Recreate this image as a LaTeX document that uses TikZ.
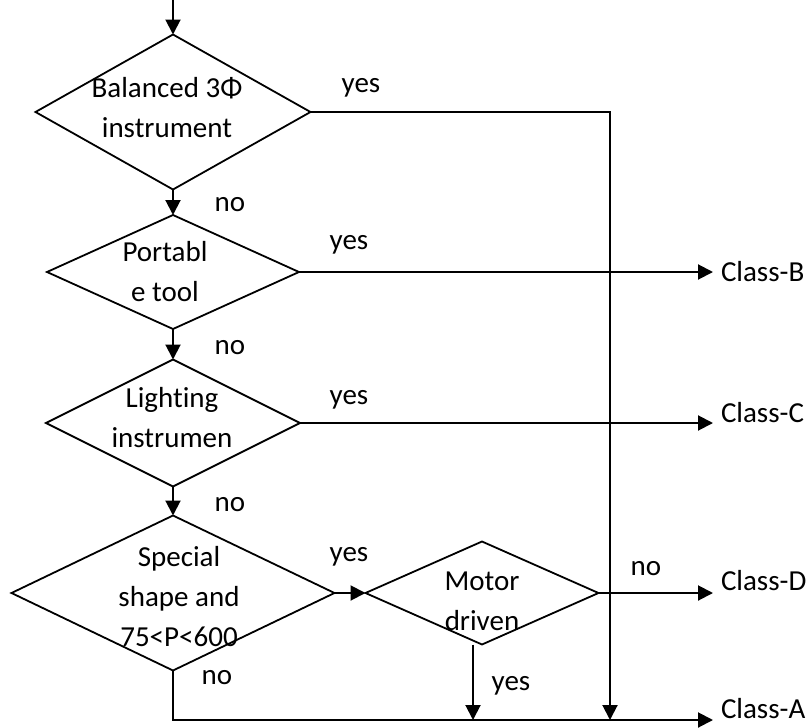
\documentclass[tikz,border=0pt]{standalone}
\usepackage{fontspec}
\setmainfont{Carlito}[Ligatures=NoCommon]
\usetikzlibrary{arrows.meta, shapes.geometric}

\begin{document}
\begin{tikzpicture}[x=0.5pt, y=-0.5pt,
    every node/.style={font=\fontsize{14.5}{20}\selectfont, inner sep=0pt, outer sep=0pt},
    decision/.style={diamond, draw, line width=0.9pt},
    txt/.style={align=center},
    arr/.style={line width=1pt, -{Triangle[length=7.5pt, width=7.5pt]}},
    ln/.style={line width=1pt}]
    \useasboundingbox (0,0) rectangle (809,728);

    % decisions
    \node[decision, minimum width=137.5pt, minimum height=77.5pt] (bal) at (173,112) {};
    \node[decision, minimum width=126pt, minimum height=57pt] (port) at (173,272) {};
    \node[decision, minimum width=127pt, minimum height=63.5pt] (light) at (173,423) {};
    \node[decision, minimum width=161.5pt, minimum height=77.5pt] (spec) at (173,593) {};
    \node[decision, minimum width=116.5pt, minimum height=51.5pt] (motor) at (482,593) {};

    % texts in the decisions
    \node[txt] (bal-t) at (167,108) {Balanced 3Φ\\instrument};
    \node[txt] (port-t) at (165,272) {Portabl\\e tool};
    \node[txt] (light-t) at (172,418) {Lighting\\instrumen};
    \node[txt] (spec-t) at (179,597) {Special\\shape and\\75<P<600};
    \node[txt] (motor-t) at (482,601) {Motor\\driven};

    % classes
    \node[anchor=west] (clB) at (721,272) {Class-B};
    \node[anchor=west] (clC) at (721,413) {Class-C};
    \node[anchor=west] (clD) at (721,581) {Class-D};
    \node[anchor=west] (clA) at (721,709) {Class-A};

    \coordinate (start) at (173,0);
    \coordinate (endB) at (713,272);
    \coordinate (endC) at (713,423);
    \coordinate (endD) at (713,593);
    \coordinate (endA) at (713,720);
    \coordinate (jA) at (610,720);
    \coordinate (myes) at (473,720);

    % edges
    \draw[arr] (start) -- (bal.north);
    \draw[arr] (bal.south) -- (port.north);
    \draw[arr] (port.south) -- (light.north);
    \draw[arr] (light.south) -- (spec.north);
    \draw[arr] (bal.east) -| (jA);
    \draw[arr] (port.east) -- (endB);
    \draw[arr] (light.east) -- (endC);
    \draw[arr] (spec.east) -- (motor.west);
    \draw[arr] (motor.east) -- (endD);
    \draw[arr] (motor.south -| myes) -- (myes);
    \draw[arr] (spec.south) |- (endA);

    % edge labels
    \node (yes1) at (361,88) {yes};
    \node (no1) at (230,205) {no};
    \node (yes2) at (349,245) {yes};
    \node (no2) at (230,348) {no};
    \node (yes3) at (349,400) {yes};
    \node (no3) at (230,505) {no};
    \node (yes4) at (349,557) {yes};
    \node (no4) at (217,678) {no};
    \node (no5) at (646,569) {no};
    \node (yes5) at (511,686) {yes};
\end{tikzpicture}
\end{document}
